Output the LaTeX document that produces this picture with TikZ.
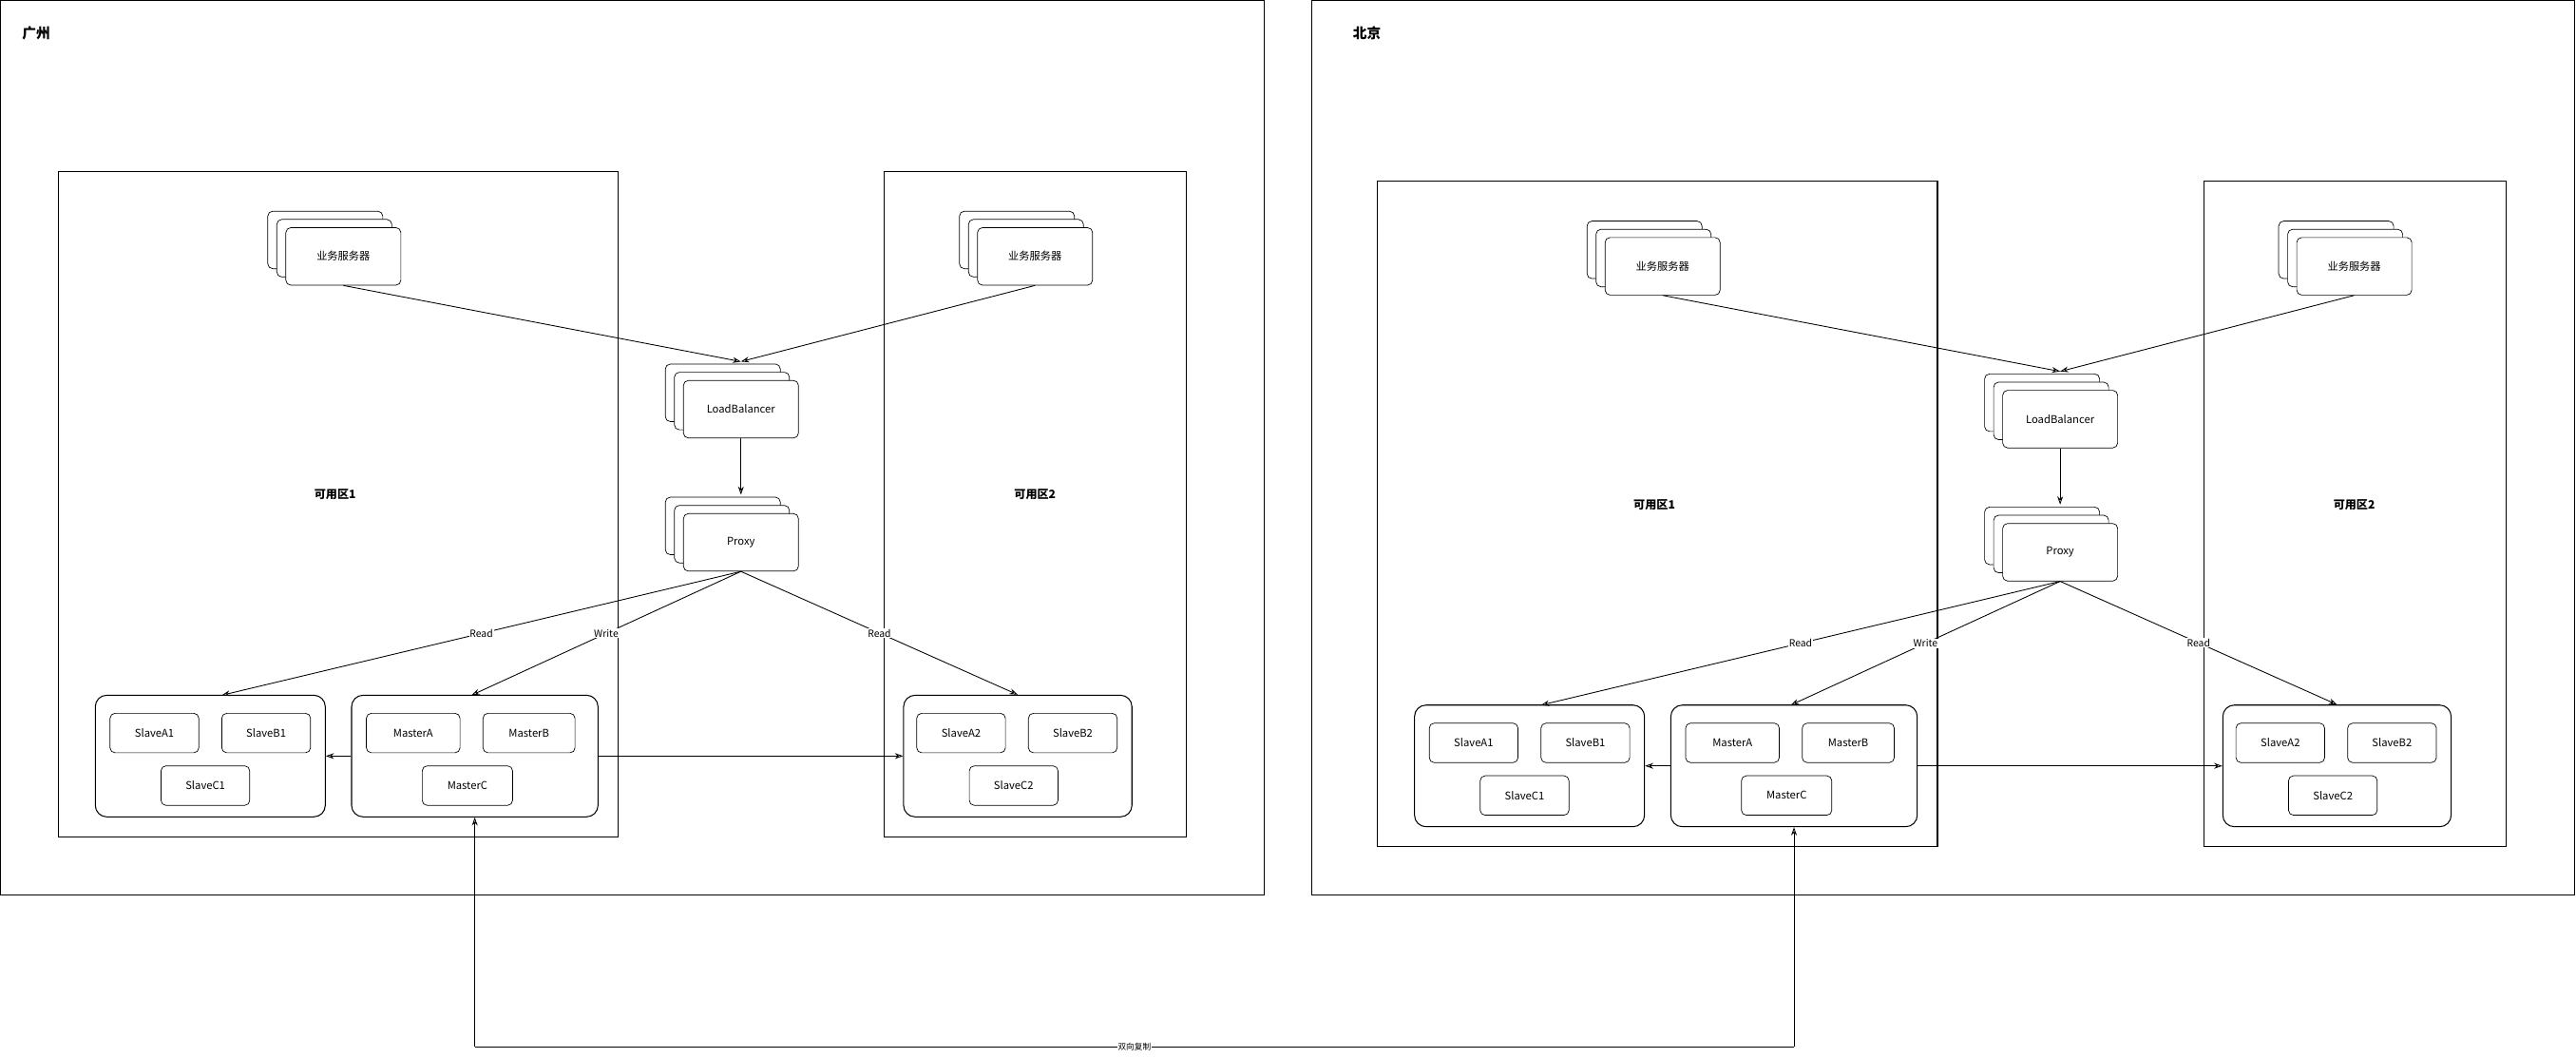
\documentclass[tikz,border=0pt]{standalone}
\usepackage{fontspec}
\setmainfont{Noto Sans CJK SC}
\usetikzlibrary{shadows,arrows.meta,calc}
\begin{document}
\begin{tikzpicture}[x=1pt,y=-1pt,
  frame/.style={draw,line width=0.6pt},
  stack/.style={draw,fill=white,rounded corners=3pt,minimum width=70pt,minimum height=35pt,font=\fontsize{6.5}{7}\selectfont,
    double copy shadow={shadow xshift=-5.5pt,shadow yshift=5pt,draw,fill=white}},
  grp/.style={draw,rounded corners=7pt,line width=0.6pt},
  inner/.style={draw,rounded corners=3pt,minimum width=54pt,minimum height=24pt,font=\fontsize{6.5}{7}\selectfont},
  arr/.style={-{Stealth[length=5pt,width=3.5pt,open]},line width=0.5pt},
  lbl/.style={fill=white,inner sep=0.5pt,font=\fontsize{6}{7}\selectfont},
  title/.style={font=\bfseries\fontsize{8.5}{9}\selectfont},
  zt/.style={font=\bfseries\fontsize{7}{8}\selectfont}]
\useasboundingbox (0,0) rectangle (1568,643.7);
\foreach \p/\dx/\dy in {L/0/0,R/803/6}{
\begin{scope}[shift={(\dx,\dy)},name prefix=\p-]
  \node[frame,anchor=north west,minimum width=341pt,minimum height=405pt] (az1) at (35,104) {};
  \node[frame,anchor=north west,minimum width=184pt,minimum height=405pt] (az2) at (538,104) {};
  \node[zt] (z1) at (204,301) {可用区1};
  \node[zt] (z2) at (630,301) {可用区2};
  \node[stack] (s1) at (209,156) {业务服务器};
  \node[stack] (s2) at (630,156) {业务服务器};
  \node[stack] (lb) at (451,249) {LoadBalancer};
  \node[stack] (px) at (451,330) {Proxy};
  \node[grp,minimum width=140pt,minimum height=74pt] (g1) at (128,460) {};
  \node[grp,minimum width=150pt,minimum height=74pt] (gm) at (289,460) {};
  \node[grp,minimum width=139pt,minimum height=74pt] (g2) at (619.5,460) {};
  \node[inner] (sa1) at (94,446) {SlaveA1};
  \node[inner] (sb1) at (162,446) {SlaveB1};
  \node[inner] (sc1) at (125,478) {SlaveC1};
  \node[inner,minimum width=57pt] (ma) at (251.5,446) {MasterA};
  \node[inner,minimum width=56pt] (mb) at (322,446) {MasterB};
  \node[inner,minimum width=55pt] (mc) at (284.5,478) {MasterC};
  \node[inner] (sa2) at (585,446) {SlaveA2};
  \node[inner] (sb2) at (653,446) {SlaveB2};
  \node[inner] (sc2) at (617,478) {SlaveC2};
  \coordinate (lbt) at (451,220);
  \coordinate (pxt) at (451,301);
  \coordinate (g1t) at (135,423);
  \coordinate (gmt) at (287,423);
  \draw[arr] (s1.south) -- (lbt);
  \draw[arr] (s2.south) -- (lbt);
  \draw[arr] (lb.south) -- (pxt);
  \draw[arr] (px.south) -- node[lbl,pos=0.5]{Read} (g1t);
  \draw[arr] (px.south) -- node[lbl,pos=0.5]{Write} (gmt);
  \draw[arr] (px.south) -- node[lbl,pos=0.5]{Read} (g2.north);
  \draw[arr] (gm.west) -- (g1.east);
  \draw[arr] (gm.east) -- (g2.west);
\end{scope}}
\node[frame,anchor=north west,minimum width=769pt,minimum height=544pt] (f1) at (0,0) {};
\node[frame,anchor=north west,minimum width=769pt,minimum height=544pt] (f2) at (798,0) {};
\node[title] (t1) at (22,20) {广州};
\node[title] (t2) at (832,20) {北京};
\coordinate (b1) at (289,637);
\coordinate (b2) at (1092,637);
\draw[arr] (b1) -- (L-gm.south);
\draw[arr] (b2) -- (R-gm.south);
\draw[line width=0.5pt] (b1) -- node[lbl,font=\fontsize{5}{6}\selectfont]{双向复制} (b2);
\end{tikzpicture}
\end{document}
